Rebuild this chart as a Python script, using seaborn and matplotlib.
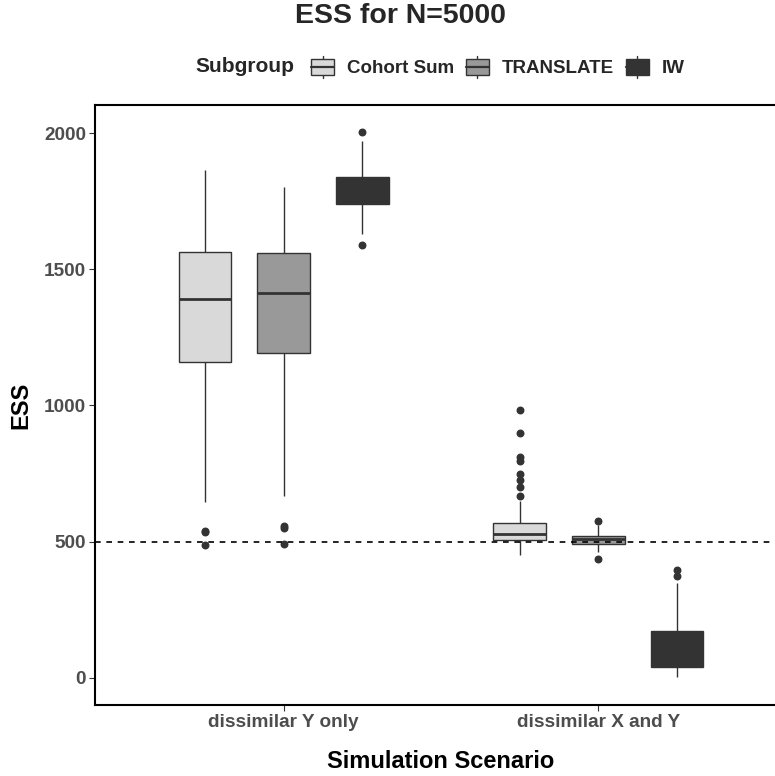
import pandas as pd
import matplotlib
matplotlib.use("Agg")
import matplotlib.pyplot as plt
from matplotlib.legend_handler import HandlerBase
from matplotlib.patches import Rectangle, Patch
from matplotlib.lines import Line2D
import seaborn as sns

# values
scenarios = ["dissimilar Y only", "dissimilar X and Y"]
subgroups = ["Cohort Sum", "TRANSLATE", "IW"]
colors = ["#D9D9D9", "#999999", "#333333"]

# per scenario, per subgroup
whisker_lo = [[645, 668, 1629], [449, 460, 1]]
q1 = [[1160, 1193, 1741], [504, 491, 39]]
median = [[1390, 1413, 1790], [528, 509, 100]]
q3 = [[1563, 1561, 1840], [568, 519, 170]]
whisker_hi = [[1864, 1803, 1972], [650, 560, 348]]
outliers = [
    [[540, 534, 486], [558, 550, 492], [2005, 1589]],
    [[983, 899, 810, 797, 749, 727, 702, 666], [577, 437], [396, 375]],
]


def expand(lo, a, m, b, hi, outs):
    """Rebuild a sample whose box-plot summary is exactly (lo, a, m, b, hi) + outs."""
    low = sorted(o for o in outs if o < a)
    high = sorted(o for o in outs if o > b)
    k = max(len(low), len(high)) + 1
    below = low + [lo] + [a] * (k - len(low) - 1)
    above = [b] * (k - len(high) - 1) + [hi] + high
    return below + [a] + [m] * (2 * k - 1) + [b] + above


rows = []
for i, sc in enumerate(scenarios):
    for j, sg in enumerate(subgroups):
        vals = expand(whisker_lo[i][j], q1[i][j], median[i][j], q3[i][j],
                      whisker_hi[i][j], outliers[i][j])
        rows += [(sc, sg, v) for v in vals]
df = pd.DataFrame(rows, columns=["scenario", "subgroup", "ESS"])


class BoxKey(HandlerBase):
    def create_artists(self, legend, orig_handle, xdescent, ydescent,
                       width, height, fontsize, trans):
        x0, y0 = -xdescent, -ydescent
        fc = orig_handle.get_facecolor()
        cx = x0 + width / 2
        wl = Line2D([cx, cx], [y0, y0 + height],
                    color="#333333", lw=1.0, transform=trans)
        box = Rectangle((x0, y0 + 0.17 * height), width, 0.66 * height,
                        facecolor=fc, edgecolor="#333333", lw=1.0, transform=trans)
        med = Line2D([x0, x0 + width], [y0 + 0.5 * height] * 2,
                     color="#333333", lw=1.6, transform=trans)
        return [wl, box, med]


sns.set_style("white")
plt.rcParams["font.family"] = ["Liberation Sans", "DejaVu Sans"]
plt.rcParams["font.weight"] = "bold"

fig = plt.figure(figsize=(7.75, 7.76), dpi=100)
ax = fig.add_axes([95 / 775, 71 / 776, 692 / 775, 600 / 776])

sns.boxplot(
    data=df, x="scenario", y="ESS", hue="subgroup",
    order=scenarios, hue_order=subgroups,
    palette=dict(zip(subgroups, colors)), saturation=1,
    width=0.75, gap=0.33, linecolor="#333333", linewidth=1.0,
    showcaps=False, fliersize=4.7,
    flierprops=dict(marker="o", markerfacecolor="#333333",
                    markeredgecolor="#333333"),
    medianprops=dict(color="#333333", linewidth=2.0),
    legend=False, ax=ax,
)

ax.axhline(500, color="black", lw=1.2, ls=(0, (3.4, 3.4)), zorder=5)

ax.set_xlim(-0.6, 1.6)
ax.set_ylim(-100, 2103)
ax.set_yticks([0, 500, 1000, 1500, 2000])
for s in ax.spines.values():
    s.set_visible(True)
    s.set_color("black")
    s.set_linewidth(1.5)

ax.tick_params(axis="both", length=4, width=0.8, color="#333333",
               labelcolor="#4D4D4D", labelsize=13.7, pad=2.5,
               left=True, bottom=True)
for lab in ax.get_xticklabels() + ax.get_yticklabels():
    lab.set_fontweight("bold")

ax.set_xlabel("Simulation Scenario", fontsize=17, fontweight="bold",
              color="black", labelpad=14)
ax.set_ylabel("ESS", fontsize=17, fontweight="bold", color="black")
ax.yaxis.set_label_coords(-0.09, 0.5)

fig.text(400 / 775, 1 - 16 / 776, "ESS for N=5000", ha="center", va="center",
         fontsize=20.5, fontweight="bold")

handles = [Patch(facecolor=c, edgecolor="#333333") for c in colors]
fig.text(294 / 775, 1 - 67 / 776, "Subgroup", ha="right", va="center",
         fontsize=15, fontweight="bold")
fig.legend(handles, subgroups, handler_map={Patch: BoxKey()},
           loc="center", bbox_to_anchor=(498 / 775, 1 - 67 / 776),
           ncol=3, frameon=False, borderpad=0,
           handlelength=1.2, handleheight=1.5, handletextpad=0.7,
           columnspacing=0.65, prop=dict(weight="bold", size=13.5))

fig.savefig("out.png", dpi=100)
